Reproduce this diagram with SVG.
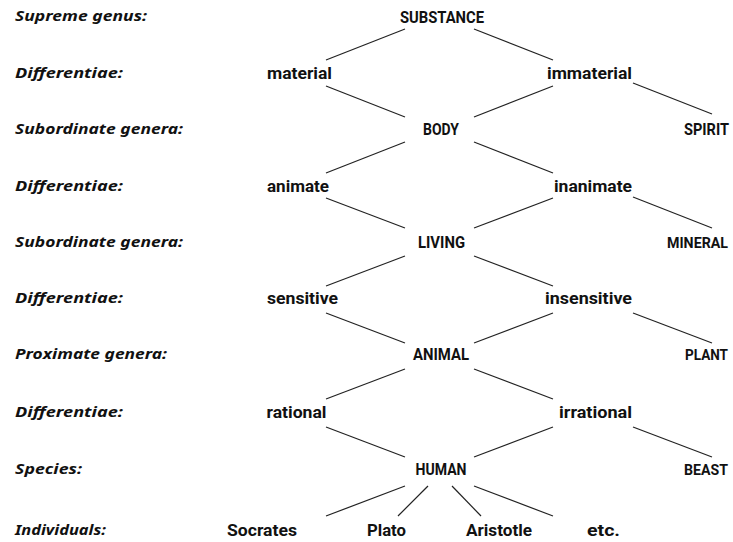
<svg xmlns="http://www.w3.org/2000/svg" width="733" height="542" viewBox="0 0 733 542">
  <style>
    .lvl { font-family: "Noto Sans", "DejaVu Sans", sans-serif; font-weight: bold; font-style: italic; font-size: 15px; fill: #111; }
    .n { font-family: Roboto, "Liberation Sans", sans-serif; font-weight: bold; font-size: 16px; fill: #111; }
    .edge { font-size: 15px; }
    #edges line { stroke: #222; stroke-width: 1.2; }
  </style>
  <rect width="733" height="542" fill="#fff"/>

  <!-- level captions -->
  <g id="levels">
    <text class="lvl" x="15" y="21" textLength="132" lengthAdjust="spacingAndGlyphs">Supreme genus:</text>
    <text class="lvl" x="15" y="77.5" textLength="108" lengthAdjust="spacingAndGlyphs">Differentiae:</text>
    <text class="lvl" x="15" y="133.5" textLength="168" lengthAdjust="spacingAndGlyphs">Subordinate genera:</text>
    <text class="lvl" x="15" y="190.5" textLength="108" lengthAdjust="spacingAndGlyphs">Differentiae:</text>
    <text class="lvl" x="15" y="246.5" textLength="168" lengthAdjust="spacingAndGlyphs">Subordinate genera:</text>
    <text class="lvl" x="15" y="302.5" textLength="108" lengthAdjust="spacingAndGlyphs">Differentiae:</text>
    <text class="lvl" x="15" y="359" textLength="152" lengthAdjust="spacingAndGlyphs">Proximate genera:</text>
    <text class="lvl" x="15" y="417" textLength="108" lengthAdjust="spacingAndGlyphs">Differentiae:</text>
    <text class="lvl" x="15" y="474" textLength="67" lengthAdjust="spacingAndGlyphs">Species:</text>
    <text class="lvl" x="15" y="534.5" textLength="91" lengthAdjust="spacingAndGlyphs">Individuals:</text>
  </g>

  <!-- connectors -->
  <g id="edges">
    <line x1="405" y1="29" x2="326" y2="60"/>
    <line x1="474" y1="29" x2="553" y2="60"/>
    <line x1="326" y1="86" x2="405" y2="117"/>
    <line x1="553" y1="86" x2="474" y2="117"/>
    <line x1="633" y1="83" x2="712" y2="114"/>
    <line x1="405" y1="142" x2="326" y2="173"/>
    <line x1="474" y1="142" x2="553" y2="173"/>
    <line x1="326" y1="198" x2="405" y2="228"/>
    <line x1="553" y1="198" x2="474" y2="228"/>
    <line x1="633" y1="197" x2="712" y2="228"/>
    <line x1="405" y1="256" x2="326" y2="286"/>
    <line x1="474" y1="256" x2="553" y2="286"/>
    <line x1="326" y1="313" x2="405" y2="343"/>
    <line x1="553" y1="313" x2="474" y2="343"/>
    <line x1="633" y1="313" x2="712" y2="343"/>
    <line x1="405" y1="369" x2="326" y2="399"/>
    <line x1="474" y1="369" x2="553" y2="399"/>
    <line x1="326" y1="427" x2="405" y2="457"/>
    <line x1="553" y1="427" x2="474" y2="457"/>
    <line x1="633" y1="427" x2="712" y2="457"/>
    <line x1="405" y1="486" x2="326" y2="516"/>
    <line x1="428" y1="486" x2="398" y2="516"/>
    <line x1="452" y1="486" x2="481" y2="516"/>
    <line x1="474" y1="486" x2="553" y2="516"/>
  </g>

  <!-- nodes -->
  <g id="substance"><text class="n" x="400" y="22.5" textLength="84" lengthAdjust="spacingAndGlyphs">SUBSTANCE</text></g>
  <g id="material"><text class="n" x="267" y="78.5" textLength="65" lengthAdjust="spacingAndGlyphs">material</text></g>
  <g id="immaterial"><text class="n" x="547" y="78.5" textLength="85" lengthAdjust="spacingAndGlyphs">immaterial</text></g>
  <g id="body"><text class="n" x="423" y="134.5" textLength="36" lengthAdjust="spacingAndGlyphs">BODY</text></g>
  <g id="spirit"><text class="n" x="684" y="134.5" textLength="45" lengthAdjust="spacingAndGlyphs">SPIRIT</text></g>
  <g id="animate"><text class="n" x="267" y="191.5" textLength="62" lengthAdjust="spacingAndGlyphs">animate</text></g>
  <g id="inanimate"><text class="n" x="554" y="191.5" textLength="78" lengthAdjust="spacingAndGlyphs">inanimate</text></g>
  <g id="living"><text class="n" x="418" y="247.5" textLength="47" lengthAdjust="spacingAndGlyphs">LIVING</text></g>
  <g id="mineral"><text class="n edge" x="667" y="247.5" textLength="61" lengthAdjust="spacingAndGlyphs">MINERAL</text></g>
  <g id="sensitive"><text class="n" x="267" y="303.5" textLength="71" lengthAdjust="spacingAndGlyphs">sensitive</text></g>
  <g id="insensitive"><text class="n" x="545" y="303.5" textLength="87" lengthAdjust="spacingAndGlyphs">insensitive</text></g>
  <g id="animal"><text class="n" x="413" y="360" textLength="56" lengthAdjust="spacingAndGlyphs">ANIMAL</text></g>
  <g id="plant"><text class="n edge" x="685" y="360" textLength="43" lengthAdjust="spacingAndGlyphs">PLANT</text></g>
  <g id="rational"><text class="n" x="266.5" y="418" textLength="60" lengthAdjust="spacingAndGlyphs">rational</text></g>
  <g id="irrational"><text class="n" x="559" y="418" textLength="73" lengthAdjust="spacingAndGlyphs">irrational</text></g>
  <g id="human"><text class="n" x="415.5" y="475" textLength="51" lengthAdjust="spacingAndGlyphs">HUMAN</text></g>
  <g id="beast"><text class="n edge" x="684" y="475" textLength="44" lengthAdjust="spacingAndGlyphs">BEAST</text></g>
  <g id="socrates"><text class="n" x="227" y="535.5" textLength="70" lengthAdjust="spacingAndGlyphs">Socrates</text></g>
  <g id="plato"><text class="n" x="367" y="535.5" textLength="39" lengthAdjust="spacingAndGlyphs">Plato</text></g>
  <g id="aristotle"><text class="n" x="466" y="535.5" textLength="66" lengthAdjust="spacingAndGlyphs">Aristotle</text></g>
  <g id="etc"><text class="n" x="587" y="535.5" textLength="33" lengthAdjust="spacingAndGlyphs">etc.</text></g>
</svg>
